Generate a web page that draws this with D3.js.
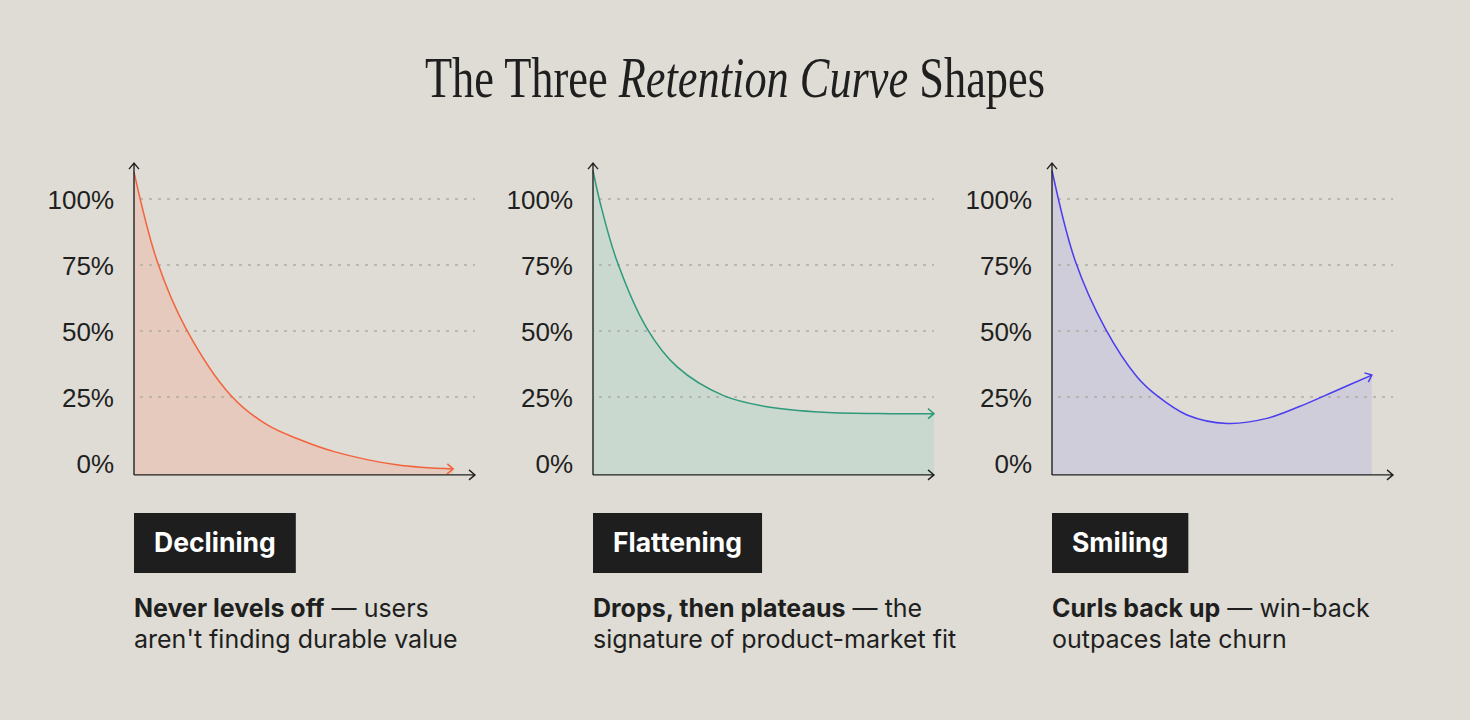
<!DOCTYPE html>
<html lang="en">
<head>
    <meta charset="UTF-8">
    <title>The Three Retention Curve Shapes</title>
    <script src="https://d3js.org/d3.v7.min.js"></script>
    <style>
        body {
            margin: 0;
            background: #dedcd4;
        }
        svg {
            display: block;
            font-family: Inter, "Noto Sans", sans-serif;
        }
        .tick text {
            font-size: 26px;
            fill: #1f1f1f;
        }
        .grid line {
            stroke: #aeaca4;
            stroke-width: 1.5;
            stroke-dasharray: 3 6;
        }
        .axis-line {
            stroke: #222;
            stroke-width: 1.4;
            fill: none;
        }
        .desc {
            font-size: 25px;
            fill: #1f1f1f;
        }
    </style>
</head>
<body>
    <svg width="1470" height="720"></svg>

    <script>
        // y ticks shared by all three panels
        const tickValues = [0, 25, 50, 75, 100];

        const decliningX = [0, 6.8, 15.2, 28.4, 39.1, 48.9, 58.7, 77, 93.6];
        const decliningY = [110.2, 76.4, 51, 25.6, 14.4, 8.7, 4.3, -0.7, -2.3];

        const flatteningX = [0, 2.1, 7, 15.8, 24.6, 38.3, 51, 67.6, 87.2, 100];
        const flatteningY = [110.8, 98.6, 76.6, 51, 36.5, 25.5, 21.3, 19.2, 18.7, 18.7];

        const smilingX = [0, 6.8, 15.6, 24.9, 30.8, 39.6, 51.3, 63, 74.8, 82.6, 93.8];
        const smilingY = [110.8, 76.6, 51, 32.7, 25.5, 18.2, 15, 16.9, 22.6, 27, 33.3];

        const names = ['Declining', 'Flattening', 'Smiling'];
        const boldText = ['Never levels off', 'Drops, then plateaus', 'Curls back up'];
        const restText = [' \u2014 users', ' \u2014 the', ' \u2014 win-back'];
        const secondLine = ["aren't finding durable value", 'signature of product-market fit', 'outpaces late churn'];
        const lineColors = ['#f2633c', '#2f9a7b', '#4b3df0'];
        const fillColors = ['#e6cabd', '#cad9cf', '#cfcdd9'];

        const series = [
            decliningX.map((x, i) => ({x: x, y: decliningY[i]})),
            flatteningX.map((x, i) => ({x: x, y: flatteningY[i]})),
            smilingX.map((x, i) => ({x: x, y: smilingY[i]}))
        ];

        const svg = d3.select('svg');

        // title, a condensed serif squeezed into place
        const title = svg.append('text')
            .attr('x', 735)
            .attr('y', 97)
            .attr('text-anchor', 'middle')
            .style('font-family', '"Liberation Serif", "DejaVu Serif", serif')
            .style('font-size', '58px')
            .attr('fill', '#1f1f1f');
        title.append('tspan').text('The Three ');
        title.append('tspan').style('font-style', 'italic').text('Retention Curve');
        title.append('tspan').text(' Shapes');
        const titleWidth = title.node().getComputedTextLength();
        title.attr('transform', `translate(735,0) scale(${620 / titleWidth},1) translate(-735,0)`);

        const panelLeft = [134, 593, 1052];
        const panelWidth = 341;

        const x = d3.scaleLinear().domain([0, 100]).range([0, panelWidth]);
        const y = d3.scaleLinear().domain([0, 100]).range([463, 199]);
        const yBottom = y(-4.5);
        const yTop = y(113.6);

        const defs = svg.append('defs');
        lineColors.forEach((c, i) => {
            defs.append('marker')
                .attr('id', `head${i}`)
                .attr('viewBox', '-8 -6 10 12')
                .attr('markerWidth', 10)
                .attr('markerHeight', 12)
                .attr('markerUnits', 'userSpaceOnUse')
                .attr('refX', 0)
                .attr('refY', 0)
                .attr('orient', 'auto')
                .append('path')
                .attr('d', 'M-6,-5L0,0L-6,5')
                .attr('fill', 'none')
                .attr('stroke', c)
                .attr('stroke-width', 1.5);
        });

        const area = d3.area()
            .x(d => x(d.x))
            .y0(yBottom)
            .y1(d => y(d.y))
            .curve(d3.curveCatmullRom.alpha(0.5));

        const line = d3.line()
            .x(d => x(d.x))
            .y(d => y(d.y))
            .curve(d3.curveCatmullRom.alpha(0.5));

        series.forEach((data, i) => {
            const g = svg.append('g')
                .attr('transform', `translate(${panelLeft[i]},0)`);

            g.append('path')
                .datum(data)
                .attr('d', area)
                .attr('fill', fillColors[i]);

            g.append('g')
                .attr('class', 'grid')
                .selectAll('line')
                .data(tickValues.filter(d => d > 0))
                .enter().append('line')
                .attr('x1', 6)
                .attr('x2', panelWidth)
                .attr('y1', d => y(d))
                .attr('y2', d => y(d));

            const yAxis = g.append('g')
                .call(d3.axisLeft(y)
                    .tickValues(tickValues)
                    .tickFormat(d => `${d}%`)
                    .tickSize(0)
                    .tickPadding(20));
            yAxis.select('.domain').remove();
            yAxis.selectAll('text').attr('dy', '0.36em');

            g.append('path')
                .datum(data)
                .attr('d', line)
                .attr('fill', 'none')
                .attr('stroke', lineColors[i])
                .attr('stroke-width', 1.5)
                .attr('marker-end', `url(#head${i})`);

            // axes with open arrow heads
            g.append('path')
                .attr('class', 'axis-line')
                .attr('d', `M0,${yBottom}V${yTop}M-5,${yTop + 6}L0,${yTop}L5,${yTop + 6}`);
            g.append('path')
                .attr('class', 'axis-line')
                .attr('d', `M0,${yBottom}H${panelWidth}M${panelWidth - 6},${yBottom - 5}L${panelWidth},${yBottom}L${panelWidth - 6},${yBottom + 5}`);

            // name badge
            const badge = g.append('g');
            const rect = badge.append('rect')
                .attr('y', 513)
                .attr('height', 60)
                .attr('fill', '#1e1e1e');
            const label = badge.append('text')
                .attr('x', 20)
                .attr('y', 552)
                .attr('fill', '#fff')
                .style('font-size', '26.5px')
                .style('font-weight', 700)
                .text(names[i]);
            rect.attr('width', label.node().getComputedTextLength() + 40);

            // description
            const d1 = g.append('text')
                .attr('class', 'desc')
                .attr('y', 617);
            d1.append('tspan').style('font-weight', 700).text(boldText[i]);
            d1.append('tspan').text(restText[i]);
            g.append('text')
                .attr('class', 'desc')
                .attr('y', 648)
                .text(secondLine[i]);
        });
    </script>
</body>
</html>
